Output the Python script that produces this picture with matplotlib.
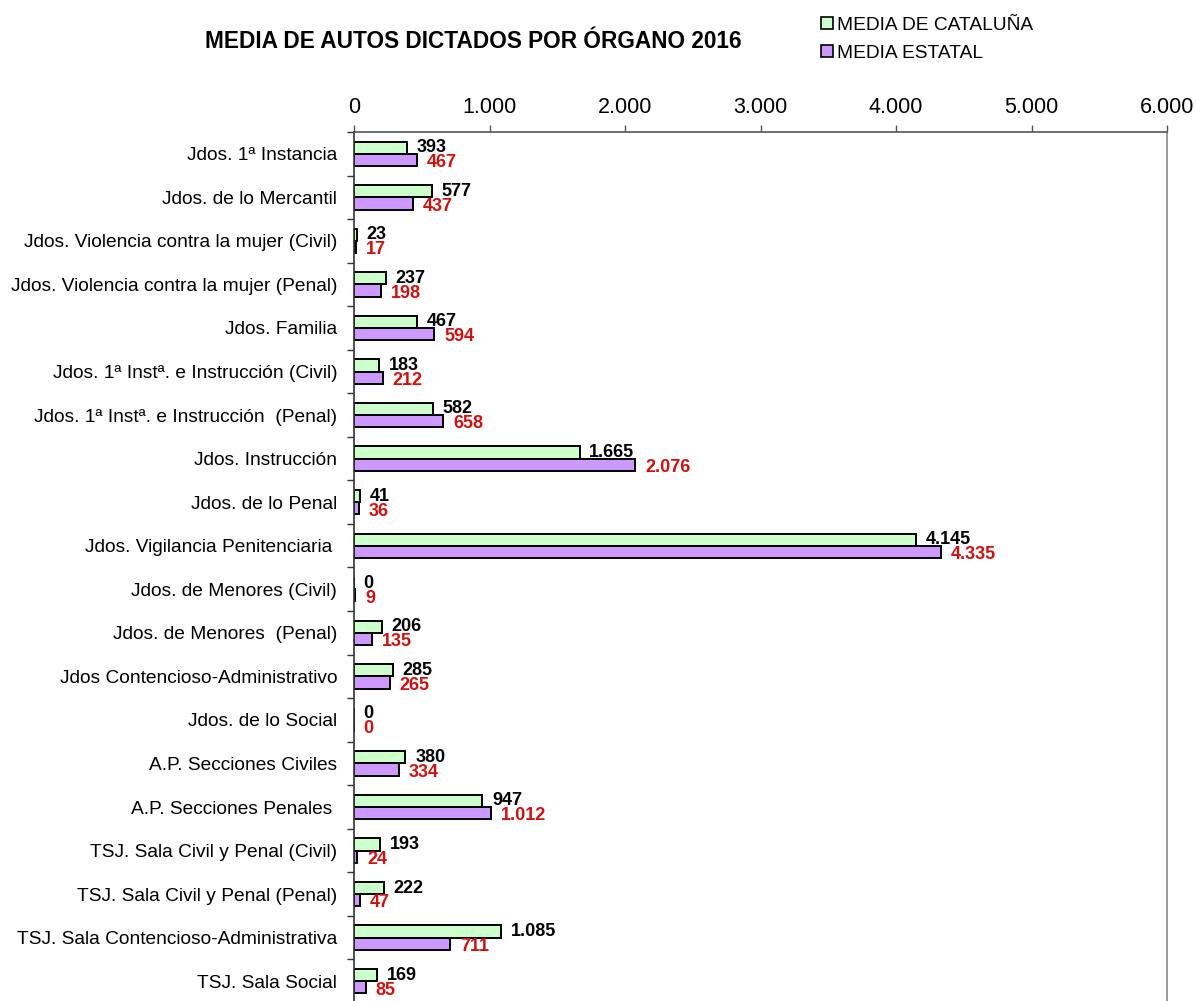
import matplotlib
matplotlib.use("Agg")
import matplotlib.pyplot as plt
from matplotlib.patches import Patch
from matplotlib.ticker import FixedLocator, FuncFormatter
import numpy as np

plt.rcParams['font.family'] = ['Liberation Sans', 'DejaVu Sans']

categories = [
    "Jdos. 1ª Instancia",
    "Jdos. de lo Mercantil",
    "Jdos. Violencia contra la mujer (Civil)",
    "Jdos. Violencia contra la mujer (Penal)",
    "Jdos. Familia",
    "Jdos. 1ª Instª. e Instrucción (Civil)",
    "Jdos. 1ª Instª. e Instrucción  (Penal)",
    "Jdos. Instrucción",
    "Jdos. de lo Penal",
    "Jdos. Vigilancia Penitenciaria ",
    "Jdos. de Menores (Civil)",
    "Jdos. de Menores  (Penal)",
    "Jdos Contencioso-Administrativo",
    "Jdos. de lo Social",
    "A.P. Secciones Civiles",
    "A.P. Secciones Penales ",
    "TSJ. Sala Civil y Penal (Civil)",
    "TSJ. Sala Civil y Penal (Penal)",
    "TSJ. Sala Contencioso-Administrativa",
    "TSJ. Sala Social",
]
media_cataluna = [393, 577, 23, 237, 467, 183, 582, 1665, 41, 4145, 0, 206, 285, 0, 380, 947, 193, 222, 1085, 169]
media_estatal = [467, 437, 17, 198, 594, 212, 658, 2076, 36, 4335, 9, 135, 265, 0, 334, 1012, 24, 47, 711, 85]
x_ticks = [0, 1000, 2000, 3000, 4000, 5000, 6000]

green = "#CCFFCC"
purple = "#CC99FF"
red = "#CC1111"

def fmt(v):
    return f"{int(v):,}".replace(",", ".")

fig = plt.figure(figsize=(11.96, 10.01), dpi=100)
ax = fig.add_axes([354/1196, 1 - 1003/1001, (1167-354)/1196, (1003-132)/1001])

n = len(categories)
y = np.arange(n)
h = 0.28
ax.barh(y - h/2, media_cataluna, height=h, color=green, edgecolor="black", linewidth=1.4)
ax.barh(y + h/2, media_estatal, height=h, color=purple, edgecolor="black", linewidth=1.4)

for i in range(n):
    ax.annotate(fmt(media_cataluna[i]), (media_cataluna[i], y[i] - h/2), xytext=(7, 0),
                textcoords="offset points", ha="left", va="center", fontsize=13,
                fontweight="bold", color="black")
    ax.annotate(fmt(media_estatal[i]), (media_estatal[i], y[i] + h/2), xytext=(7, -2),
                textcoords="offset points", ha="left", va="center", fontsize=13,
                fontweight="bold", color=red)

ax.set_xlim(0, 6000)
ax.set_ylim(n - 0.5, -0.5)
ax.xaxis.set_ticks_position("top")
ax.xaxis.set_label_position("top")
ax.set_xticks(x_ticks)
ax.xaxis.set_major_formatter(FuncFormatter(lambda v, p: fmt(v)))
ax.tick_params(axis="x", direction="out", length=5, width=1, color="#555555",
               labelsize=15.5, pad=5)

ax.set_yticks(y)
ax.set_yticklabels(categories)
ax.tick_params(axis="y", which="major", length=0, labelsize=13.8, pad=12)
ax.yaxis.set_minor_locator(FixedLocator(np.arange(-0.5, n, 1.0)))
ax.tick_params(axis="y", which="minor", length=5, width=1, direction="out", color="#333333")

ax.spines["bottom"].set_visible(False)
ax.spines["left"].set_color("#333333")
ax.spines["left"].set_linewidth(1.2)
ax.spines["top"].set_color("#555555")
ax.spines["top"].set_linewidth(1.2)
ax.spines["right"].set_color("#888888")
ax.spines["right"].set_linewidth(1.2)

fig.text(473/1196, 1 - 42/1001, "MEDIA DE AUTOS DICTADOS POR ÓRGANO 2016",
         ha="center", va="center", fontsize=16.3, fontweight="bold")

handles = [Patch(facecolor=green, edgecolor="black", linewidth=1.2),
           Patch(facecolor=purple, edgecolor="black", linewidth=1.2)]
fig.legend(handles, ["MEDIA DE CATALUÑA", "MEDIA ESTATAL"], loc="upper left",
           bbox_to_anchor=(821/1196, 1 - 17/1001), frameon=False, fontsize=13.8,
           handlelength=0.6, handleheight=0.6, handletextpad=0.25, labelspacing=0.55,
           borderaxespad=0, borderpad=0)

fig.savefig("out.png", dpi=100)
